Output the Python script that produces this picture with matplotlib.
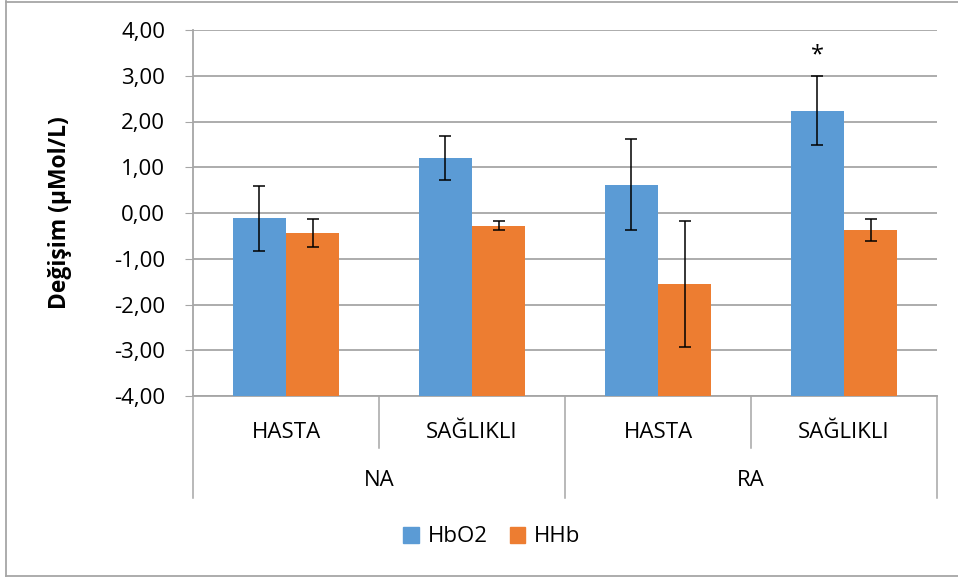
import matplotlib.pyplot as plt
from matplotlib.lines import Line2D
from matplotlib.patches import Patch
from matplotlib.ticker import FuncFormatter

plt.rcParams['font.family'] = ['Open Sans', 'DejaVu Sans']

# veriler
alt_gruplar = ['HASTA', 'SAĞLIKLI', 'HASTA', 'SAĞLIKLI']
ust_gruplar = ['NA', 'RA']
hbo2 = [-0.12, 1.20, 0.62, 2.24]
hbo2_hata = [0.70, 0.48, 0.99, 0.75]
hhb = [-0.44, -0.28, -1.55, -0.37]
hhb_hata = [0.31, 0.10, 1.37, 0.24]
yildiz_grup = 3
yildiz_deger = 3.45

mavi = '#5B9BD5'
turuncu = '#ED7D31'
gri = '#A6A6A6'
taban = -4  # yatay eksen -4'te kesişiyor, çubuklar oradan başlıyor

fig = plt.figure(figsize=(9.58, 5.78), dpi=100)
ax = fig.add_axes([193 / 958, 1 - 396 / 578, (937 - 193) / 958, (396 - 30) / 578])

x = list(range(len(alt_gruplar)))
w = 0.285
xb = [i - w / 2 for i in x]
xo = [i + w / 2 for i in x]
hata_stil = dict(ecolor='black', elinewidth=1.1, capsize=4.5, capthick=1.1)
ax.bar(xb, [v - taban for v in hbo2], w, bottom=taban, color=mavi, zorder=3, label='HbO2')
ax.bar(xo, [v - taban for v in hhb], w, bottom=taban, color=turuncu, zorder=3, label='HHb')
ax.errorbar(xb, hbo2, yerr=hbo2_hata, fmt='none', zorder=4, **hata_stil)
ax.errorbar(xo, hhb, yerr=hhb_hata, fmt='none', zorder=4, **hata_stil)

ax.text(xb[yildiz_grup], yildiz_deger, '*', ha='center', va='center', fontsize=17)

ax.set_xlim(-0.5, len(x) - 0.5)
ax.set_ylim(-4, 4)
ax.set_yticks(range(-4, 5))
ax.yaxis.set_major_formatter(FuncFormatter(lambda v, p: f'{v:.2f}'.replace('.', ',')))
ax.tick_params(axis='y', labelsize=16, length=6, color=gri, pad=14, labelcolor='black')
ax.set_xticks([])
ax.grid(axis='y', color=gri, linewidth=1.3, zorder=0)
for s in ['top', 'right']:
    ax.spines[s].set_visible(False)
ax.spines['left'].set_color(gri)
ax.spines['bottom'].set_color(gri)
ax.spines['left'].set_linewidth(1.3)
ax.spines['bottom'].set_linewidth(1.3)

ax.set_ylabel('Değişim (µMol/L)', fontsize=16.5, fontweight='bold', labelpad=30)

# çok seviyeli x ekseni
tr = ax.get_xaxis_transform()
for i, ad in enumerate(alt_gruplar):
    ax.text(i, -0.101, ad, transform=tr, ha='center', va='center', fontsize=16)
for j, ad in enumerate(ust_gruplar):
    ax.text(2 * j + 0.5, -0.230, ad, transform=tr, ha='center', va='center', fontsize=16)
for k in range(len(x) + 1):
    alt = -0.279 if k % 2 == 0 else -0.142
    ax.plot([k - 0.5, k - 0.5], [0, alt], transform=tr, color=gri, lw=1.1, clip_on=False)

ax.legend(handles=[Patch(color=mavi, label='HbO2'), Patch(color=turuncu, label='HHb')],
          loc='center', bbox_to_anchor=(492 / 958, 1 - 537 / 578), bbox_transform=fig.transFigure,
          ncol=2, frameon=False, fontsize=16, handlelength=0.7, handleheight=0.7,
          handletextpad=0.4, columnspacing=1.0)

# dış çerçeve
for xs, ys in [([6 / 958, 6 / 958], [1 - 1 / 578, 1 - 576 / 578]),
               ([6 / 958, 1], [1 - 1.5 / 578, 1 - 1.5 / 578]),
               ([6 / 958, 1], [1 - 576 / 578, 1 - 576 / 578])]:
    fig.add_artist(Line2D(xs, ys, transform=fig.transFigure, color=gri, lw=1.3))

fig.savefig('out.png', dpi=100)
